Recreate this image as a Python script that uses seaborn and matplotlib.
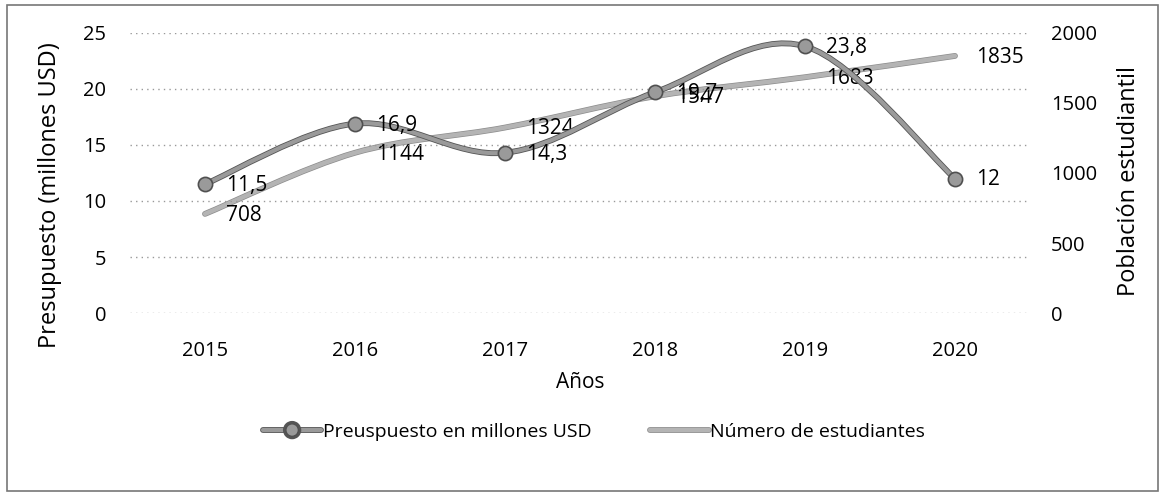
import numpy as np
import pandas as pd
import matplotlib.pyplot as plt
import seaborn as sns
from matplotlib.path import Path
from matplotlib.patches import PathPatch, Rectangle
from matplotlib.lines import Line2D
import matplotlib.patheffects as pe

sns.set_style("white")
plt.rcParams['font.family'] = ['Open Sans', 'DejaVu Sans']
plt.rcParams['text.color'] = 'black'
plt.rcParams['xtick.color'] = 'black'
plt.rcParams['ytick.color'] = 'black'
plt.rcParams['axes.labelcolor'] = 'black'

# Data
years = ['2015', '2016', '2017', '2018', '2019', '2020']
presupuesto = [11.5, 16.9, 14.3, 19.7, 23.8, 12]
estudiantes = [708, 1144, 1324, 1547, 1683, 1835]

df = pd.DataFrame({'pos': range(len(years)), 'year': years,
                   'presupuesto': presupuesto, 'estudiantes': estudiantes})


def smooth_path(xs, ys):
    # Excel-style smoothed line (Catmull-Rom as cubic Bezier)
    p = np.column_stack([xs, ys]).astype(float)
    ext = np.vstack([p[0], p, p[-1]])
    verts = [p[0]]
    codes = [Path.MOVETO]
    for i in range(len(p) - 1):
        p0, p1, p2, p3 = ext[i], ext[i + 1], ext[i + 2], ext[i + 3]
        verts += [p1 + (p2 - p0) / 6, p2 - (p3 - p1) / 6, p2]
        codes += [Path.CURVE4] * 3
    return Path(verts, codes)


fig = plt.figure(figsize=(11.65, 4.97), dpi=100)
ax = fig.add_axes([0.1116, 0.370, 0.7725, 0.564])
ax2 = ax.twinx()
ax.set_zorder(ax2.get_zorder() + 1)
ax.patch.set_visible(False)

c_bud = '#9a9a9a'
c_est = '#b4b4b4'
fx_bud = [pe.Stroke(linewidth=4.2, foreground='#555555'), pe.Normal()]
fx_est = [pe.Stroke(linewidth=4.2, foreground='#8c8c8c'), pe.Normal()]

# students (right axis)
ax2.add_patch(PathPatch(smooth_path(df['pos'], df['estudiantes']), fill=False,
                        edgecolor=c_est, lw=3.2, capstyle='round', path_effects=fx_est))
# budget (left axis)
ax.add_patch(PathPatch(smooth_path(df['pos'], df['presupuesto']), fill=False,
                       edgecolor=c_bud, lw=3.0, capstyle='round', path_effects=fx_bud))
sns.scatterplot(data=df, x='pos', y='presupuesto', ax=ax, s=105, color=c_bud,
                edgecolor='#505050', linewidth=1.2, zorder=5, legend=False)

for x, v in zip(df['pos'], df['estudiantes']):
    ax2.annotate(str(v), (x, v), xytext=(15, -1), textcoords='offset points',
                 ha='left', va='center', fontsize=15)
for x, v in zip(df['pos'], df['presupuesto']):
    lab = f'{v:g}'.replace('.', ',')
    ax.annotate(lab, (x, v), xytext=(15, -1), textcoords='offset points',
                ha='left', va='center', fontsize=15, zorder=6)

ax.set_xlim(-0.5, 5.5)
ax.set_ylim(0, 25)
ax2.set_ylim(0, 2000)
ax.set_xticks(df['pos'])
ax.set_xticklabels(years)
ax.set_yticks([0, 5, 10, 15, 20, 25])
ax2.set_yticks([0, 500, 1000, 1500, 2000])

ax.yaxis.grid(True, linestyle=(0, (1, 3)), color='#999999', lw=1)
ax.xaxis.grid(False)
ax2.grid(False)
for a in (ax, ax2):
    for s in a.spines.values():
        s.set_visible(False)
ax.tick_params(axis='x', length=0, pad=20, labelsize=14.5)
ax.tick_params(axis='y', length=0, pad=17, labelsize=14.5)
ax2.tick_params(axis='y', length=0, pad=15, labelsize=14.5)

ax.set_ylabel('Presupuesto (millones USD)', fontsize=17)
ax.yaxis.set_label_coords(-0.0756, 0.42)
ax2.set_ylabel('Población estudiantil', fontsize=17)
ax2.yaxis.set_label_coords(1.097, 0.47)
ax.set_xlabel('Años', fontsize=15, labelpad=8)

handles = [
    Line2D([], [], color=c_bud, lw=3, marker='o', markersize=9,
           markerfacecolor=c_bud, markeredgecolor='#505050', path_effects=fx_bud),
    Line2D([], [], color=c_est, lw=3.2, path_effects=fx_est),
]
fig.legend(handles, ['Preuspuesto en millones USD', 'Número de estudiantes'],
           loc='center', bbox_to_anchor=(0.51, 0.131), ncol=2, frameon=False,
           fontsize=14, handlelength=3.0, handletextpad=0.1, columnspacing=3.0)

fig.patches.append(Rectangle((0.006, 0.012), 0.988, 0.978, transform=fig.transFigure,
                             fill=False, edgecolor='#777777', lw=1.2))

fig.savefig('out.png', dpi=100)
